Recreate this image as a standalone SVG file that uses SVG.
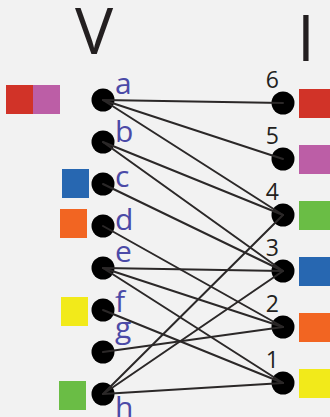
<svg xmlns="http://www.w3.org/2000/svg" width="330" height="417" viewBox="0 0 330 417">
<style>
.bg{fill:#f2f2f2}
.dot{fill:#000}
.edge{stroke:#2b2828;stroke-width:2;fill:none;stroke-linecap:round}
.lbl{font-family:"Open Sans","Liberation Sans",sans-serif;font-size:30px;fill:#4b4aa7}
.num{font-family:"Open Sans","Liberation Sans",sans-serif;font-size:23px;fill:#231f20;text-anchor:end}
.head{font-family:"Open Sans","Liberation Sans",sans-serif;font-size:64px;fill:#231f20;text-anchor:middle}
.red{fill:#d13328}.pur{fill:#bc5ea6}.blu{fill:#2767b1}.ora{fill:#f26522}.yel{fill:#f2ea1a}.grn{fill:#6abd45}
</style>
<rect class="bg" x="0" y="0" width="330" height="417"/>
<text class="head" x="94" y="54">V</text>
<text class="head" x="306" y="61">I</text>
<g id="node-a"><rect class="red" x="6" y="85" width="27" height="29"/><rect class="pur" x="33" y="85" width="27" height="29"/><circle class="dot" cx="103" cy="100" r="11.5"/><text class="lbl" x="115" y="94">a</text></g>
<g id="node-b"><circle class="dot" cx="103" cy="142" r="11.5"/><text class="lbl" x="115" y="142">b</text></g>
<g id="node-c"><rect class="blu" x="62" y="169" width="27" height="29"/><circle class="dot" cx="103" cy="184" r="11.5"/><text class="lbl" x="115" y="187">c</text></g>
<g id="node-d"><rect class="ora" x="60" y="209" width="27" height="29"/><circle class="dot" cx="103" cy="226" r="11.5"/><text class="lbl" x="115" y="230">d</text></g>
<g id="node-e"><circle class="dot" cx="103" cy="268" r="11.5"/><text class="lbl" x="115" y="262">e</text></g>
<g id="node-f"><rect class="yel" x="61" y="297" width="27" height="29"/><circle class="dot" cx="103" cy="310" r="11.5"/><text class="lbl" x="115" y="312">f</text></g>
<g id="node-g"><circle class="dot" cx="103" cy="352" r="11.5"/><text class="lbl" x="115" y="338">g</text></g>
<g id="node-h"><rect class="grn" x="59" y="381" width="27" height="29"/><circle class="dot" cx="103" cy="394" r="11.5"/><text class="lbl" x="115" y="418">h</text></g>
<g id="node-6"><circle class="dot" cx="283" cy="103" r="11.5"/><rect class="red" x="299" y="89" width="31" height="29"/><text class="num" x="279" y="88">6</text></g>
<g id="node-5"><circle class="dot" cx="283" cy="159" r="11.5"/><rect class="pur" x="299" y="145" width="31" height="29"/><text class="num" x="279" y="144">5</text></g>
<g id="node-4"><circle class="dot" cx="283" cy="215" r="11.5"/><rect class="grn" x="299" y="201" width="31" height="29"/><text class="num" x="279" y="200">4</text></g>
<g id="node-3"><circle class="dot" cx="283" cy="271" r="11.5"/><rect class="blu" x="299" y="257" width="31" height="29"/><text class="num" x="279" y="256">3</text></g>
<g id="node-2"><circle class="dot" cx="283" cy="327" r="11.5"/><rect class="ora" x="299" y="313" width="31" height="29"/><text class="num" x="279" y="312">2</text></g>
<g id="node-1"><circle class="dot" cx="283" cy="383" r="11.5"/><rect class="yel" x="299" y="369" width="31" height="29"/><text class="num" x="279" y="368">1</text></g>
<g id="connectors">
<line class="edge" x1="103" y1="100" x2="283" y2="103"/>
<line class="edge" x1="103" y1="100" x2="283" y2="159"/>
<line class="edge" x1="103" y1="100" x2="283" y2="215"/>
<line class="edge" x1="103" y1="142" x2="283" y2="215"/>
<line class="edge" x1="103" y1="142" x2="283" y2="271"/>
<line class="edge" x1="103" y1="184" x2="283" y2="271"/>
<line class="edge" x1="103" y1="226" x2="283" y2="327"/>
<line class="edge" x1="103" y1="268" x2="283" y2="271"/>
<line class="edge" x1="103" y1="268" x2="283" y2="327"/>
<line class="edge" x1="103" y1="268" x2="283" y2="383"/>
<line class="edge" x1="103" y1="310" x2="283" y2="383"/>
<line class="edge" x1="103" y1="352" x2="283" y2="327"/>
<line class="edge" x1="103" y1="394" x2="283" y2="215"/>
<line class="edge" x1="103" y1="394" x2="283" y2="271"/>
<line class="edge" x1="103" y1="394" x2="283" y2="383"/>
</g>
</svg>
